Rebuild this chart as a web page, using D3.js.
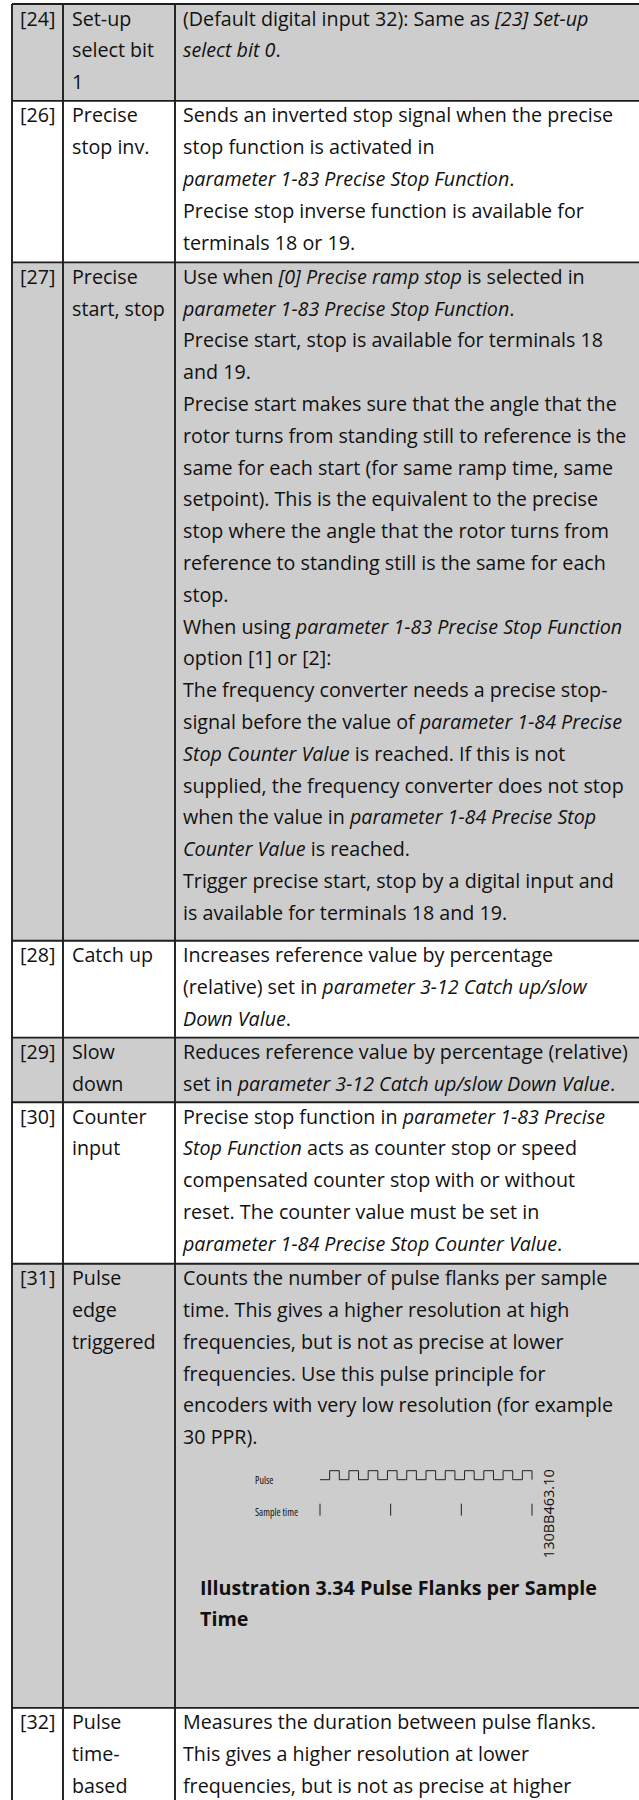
<!DOCTYPE html>
<html>
<head>
<meta charset="utf-8">
<script src="https://cdn.jsdelivr.net/npm/d3@7"></script>
<style>
  html, body { margin: 0; padding: 0; background: #fff; }
  svg { display: block; }
  text { font-family: "Open Sans", "Noto Sans", sans-serif; fill: #111; }
</style>
</head>
<body>
<svg id="chart" width="639" height="1800"></svg>
<script>
// ---------- data ----------
const codes = ["[24]", "[26]", "[27]", "[28]", "[29]", "[30]", "[31]", "[32]"];
const names = [
  ["Set-up", "select bit", "1"],
  ["Precise", "stop inv."],
  ["Precise", "start, stop"],
  ["Catch up"],
  ["Slow", "down"],
  ["Counter", "input"],
  ["Pulse", "edge", "triggered"],
  ["Pulse", "time-", "based"]
];
const descriptions = [
  ["(Default digital input 32): Same as *[23] Set-up*", "*select bit 0*."],
  ["Sends an inverted stop signal when the precise", "stop function is activated in",
   "*parameter 1-83 Precise Stop Function*.", "Precise stop inverse function is available for",
   "terminals 18 or 19."],
  ["Use when *[0] Precise ramp stop* is selected in", "*parameter 1-83 Precise Stop Function*.",
   "Precise start, stop is available for terminals 18", "and 19.",
   "Precise start makes sure that the angle that the", "rotor turns from standing still to reference is the",
   "same for each start (for same ramp time, same", "setpoint). This is the equivalent to the precise",
   "stop where the angle that the rotor turns from", "reference to standing still is the same for each",
   "stop.", "When using *parameter 1-83 Precise Stop Function*", "option [1] or [2]:",
   "The frequency converter needs a precise stop-", "signal before the value of *parameter 1-84 Precise*",
   "*Stop Counter Value* is reached. If this is not", "supplied, the frequency converter does not stop",
   "when the value in *parameter 1-84 Precise Stop*", "*Counter Value* is reached.",
   "Trigger precise start, stop by a digital input and", "is available for terminals 18 and 19."],
  ["Increases reference value by percentage", "(relative) set in *parameter 3-12 Catch up/slow*",
   "*Down Value*."],
  ["Reduces reference value by percentage (relative)", "set in *parameter 3-12 Catch up/slow Down Value*."],
  ["Precise stop function in *parameter 1-83 Precise*", "*Stop Function* acts as counter stop or speed",
   "compensated counter stop with or without", "reset. The counter value must be set in",
   "*parameter 1-84 Precise Stop Counter Value*."],
  ["Counts the number of pulse flanks per sample", "time. This gives a higher resolution at high",
   "frequencies, but is not as precise at lower", "frequencies. Use this pulse principle for",
   "encoders with very low resolution (for example", "30 PPR)."],
  ["Measures the duration between pulse flanks.", "This gives a higher resolution at lower",
   "frequencies, but is not as precise at higher"]
];
const rowShaded = [true, false, true, false, true, false, true, false];
// figure in row [31]
const pulseLevels = [0,1,0,1,0,1,0,1,0,1,0,1,0,1,0,1,0,1,0,1,0,1]; // one entry per half-period
const sampleTimes = [0, 1, 2, 3];
const figureLabels = ["Pulse", "Sample time"];
const figureCode = "130BB463.10";
const captionLines = ["Illustration 3.34 Pulse Flanks per Sample", "Time"];

// ---------- layout ----------
const W = 639, H = 1800;
const rowSpans = [3, 5, 21, 3, 2, 5, 13.75, 3.6]; // in text-line units
const rowUnit = 32.3;     // row height per text line
const lineStep = 31.8;    // baseline-to-baseline inside a cell
const baseOff = 21.5;     // first baseline below the row top
const tableTop = 4;
const colX = [12, 63, 175, 660];
const fontSize = 19.7;

const svg = d3.select("#chart");
const cum = [0];
rowSpans.forEach(s => cum.push(cum[cum.length - 1] + s));
const y = d3.scaleLinear().domain([0, 1]).range([tableTop, tableTop + rowUnit]);

// row backgrounds
svg.append("g").selectAll("rect").data(codes).join("rect")
  .attr("x", colX[0]).attr("width", colX[3] - colX[0])
  .attr("y", (d, i) => y(cum[i]))
  .attr("height", (d, i) => y(cum[i + 1]) - y(cum[i]))
  .attr("fill", (d, i) => rowShaded[i] ? "#cdcdcd" : "#ffffff");

function richLine(sel, str) {
  const parts = str.split("*");
  parts.forEach((p, k) => {
    if (!p) return;
    sel.append("tspan").attr("font-style", k % 2 ? "italic" : "normal").text(p);
  });
}

const rows = svg.append("g").selectAll("g").data(codes).join("g")
  .attr("transform", (d, i) => `translate(0,${y(cum[i])})`);

rows.append("text").attr("x", 20).attr("y", baseOff).attr("font-size", fontSize).text(d => d);

rows.each(function (d, i) {
  const g = d3.select(this);
  names[i].forEach((n, k) => {
    g.append("text").attr("x", 72).attr("y", baseOff + k * lineStep).attr("font-size", fontSize).text(n);
  });
  descriptions[i].forEach((s, k) => {
    const t = g.append("text").attr("x", 183).attr("y", baseOff + k * lineStep).attr("font-size", fontSize);
    richLine(t, s);
  });
});

// ---------- figure in row [31] ----------
const fig = svg.append("g").attr("transform", `translate(0,${y(cum[6])})`);
const xt = d3.scaleLinear().domain([0, 3]).range([320, 532]);
const xp = d3.scaleLinear().domain([0, pulseLevels.length]).range([320, 532]);
const yp = d3.scaleLinear().domain([0, 1]).range([216, 207]);
const pts = [];
pulseLevels.forEach((v, k) => { pts.push([xp(k), yp(v)]); pts.push([xp(k + 1), yp(v)]); });
pts.push([xp(pulseLevels.length), yp(0)]);
fig.append("path").attr("d", d3.line()(pts)).attr("fill", "none").attr("stroke", "#222").attr("stroke-width", 1);

fig.append("text").attr("x", 255).attr("y", 220).attr("font-size", 10).attr("font-stretch", "condensed").text(figureLabels[0]);
fig.append("text").attr("x", 255).attr("y", 252).attr("font-size", 10).attr("font-stretch", "condensed").text(figureLabels[1]);
fig.selectAll("line.tick").data(sampleTimes).join("line")
  .attr("x1", d => xt(d)).attr("x2", d => xt(d))
  .attr("y1", 240).attr("y2", 252).attr("stroke", "#222").attr("stroke-width", 1);

fig.append("text")
  .attr("transform", `translate(554,${250}) rotate(-90)`)
  .attr("text-anchor", "middle").attr("font-size", 14.5).text(figureCode);

captionLines.forEach((c, k) => {
  fig.append("text").attr("x", 200).attr("y", 331 + k * lineStep)
    .attr("font-size", fontSize).attr("font-weight", "bold").text(c);
});

// ---------- grid lines ----------
const grid = svg.append("g").attr("stroke", "#1e1e1e").attr("stroke-width", 1.9);
grid.selectAll("line.h").data(cum).join("line")
  .attr("x1", colX[0]).attr("x2", colX[3])
  .attr("y1", d => y(d)).attr("y2", d => y(d));
grid.selectAll("line.v").data(colX.slice(0, 3)).join("line")
  .attr("x1", d => d).attr("x2", d => d)
  .attr("y1", tableTop).attr("y2", H);
</script>
</body>
</html>
